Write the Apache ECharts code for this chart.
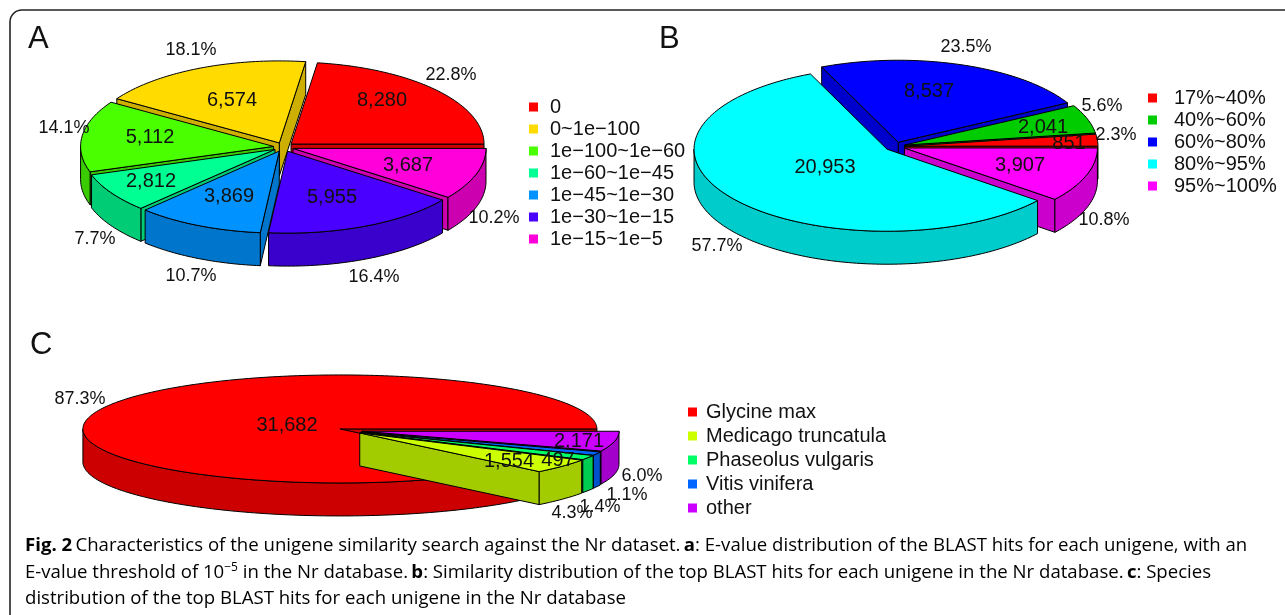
<!DOCTYPE html>
<html>
<head>
<meta charset="utf-8">
<title>Fig. 2</title>
<style>
    html, body { margin: 0; padding: 0; background: #fff; }
    #chart { width: 1285px; height: 615px; }
</style>
<script src="https://cdn.jsdelivr.net/npm/echarts@6/dist/echarts.min.js"></script>
</head>
<body>
<div id="chart"></div>
<script>
    // panel A
    var namesA = ['0', '0~1e\u2212100', '1e\u2212100~1e\u221260', '1e\u221260~1e\u221245', '1e\u221245~1e\u221230', '1e\u221230~1e\u221215', '1e\u221215~1e\u22125'];
    var valuesA = [8280, 6574, 5112, 2812, 3869, 5955, 3687];
    var colorsA = ['#FF0000', '#FFDB00', '#49FF00', '#00FF92', '#0092FF', '#4900FF', '#FF00DB'];
    // panel B
    var namesB = ['17%~40%', '40%~60%', '60%~80%', '80%~95%', '95%~100%'];
    var valuesB = [851, 2041, 8537, 20953, 3907];
    var colorsB = ['#FF0000', '#00CC00', '#0000FF', '#00FFFF', '#FF00FF'];
    // panel C
    var namesC = ['Glycine max', 'Medicago truncatula', 'Phaseolus vulgaris', 'Vitis vinifera', 'other'];
    var valuesC = [31682, 1554, 497, 385, 2171];
    var colorsC = ['#FF0000', '#CCFF00', '#00FF66', '#0066FF', '#CC00FF'];
    var hiddenCountsC = ['Vitis vinifera']; // no count printed for this slice

    // where the pies and their texts sit on the page
    var pies = [
        {
            names: namesA, values: valuesA, colors: colorsA,
            cx: 283.5, cy: 147, rx: 193, ry: 82, depth: 33, ex: 10, ey: 4.5,
            countAt: [[382, 100], [232, 100], [150, 137], [151, 181], [229, 196], [332, 197], [408, 165]],
            pctAt: [[451, 75], [191, 50], [64, 128], [95, 239], [191, 276], [374, 277], [494, 218]],
            legend: { left: 524, top: 92, gap: 2, textGap: 7 }
        },
        {
            names: namesB, values: valuesB, colors: colorsB,
            cx: 895, cy: 146.5, rx: 193, ry: 82, depth: 33, ex: 10, ey: 4.5,
            countAt: [[1069, 143], [1043, 127], [929, 91], [825, 167], [1020, 165]],
            pctAt: [[1116, 135], [1102, 106], [966, 47], [717, 246], [1104, 220]],
            legend: { left: 1143, top: 83, gap: 2, textGap: 12 }
        },
        {
            names: namesC, values: valuesC, colors: colorsC,
            cx: 350.6, cy: 430.5, rx: 257, ry: 54, depth: 33, ex: 11.6, ey: 4,
            countAt: [[287, 425], [509, 461], [558, 460], [0, 0], [579, 441]],
            pctAt: [[80, 399], [572, 513], [600, 507], [627, 495], [642, 476]],
            legend: { left: 683, top: 397, gap: 4, textGap: 4 }
        }
    ];

    var FONT = '"Liberation Sans", Arial, sans-serif';
    var CAPTION_FONT = '"Open Sans", "Noto Sans", sans-serif';
    var CAPTION_SIZE = 18.6;

    function darker(hex) {
        var n = parseInt(hex.slice(1), 16);
        var c = [n >> 16, (n >> 8) & 255, n & 255].map(function (v) { return Math.round(v * 0.8); });
        return 'rgb(' + c.join(',') + ')';
    }

    function rim(o, a) {
        return [o[0] + o[2] * Math.cos(a), o[1] - o[3] * Math.sin(a)];
    }

    function arcPoints(o, a1, a2) {
        var pts = [];
        var steps = Math.max(2, Math.ceil((a2 - a1) / 0.02));
        for (var i = 0; i <= steps; i++) {
            pts.push(rim(o, a1 + (a2 - a1) * i / steps));
        }
        return pts;
    }

    function down(pts, depth) {
        return pts.map(function (p) { return [p[0], p[1] + depth]; }).reverse();
    }

    function buildSlices(pie) {
        var total = pie.values.reduce(function (a, b) { return a + b; }, 0);
        var acc = 0;
        var out = pie.values.map(function (v, i) {
            var a1 = acc / total * Math.PI * 2;
            acc += v;
            var a2 = acc / total * Math.PI * 2;
            var mid = (a1 + a2) / 2;
            return {
                index: i, value: v, pct: v / total * 100, a1: a1, a2: a2, mid: mid,
                x: pie.cx + pie.ex * Math.cos(mid),
                y: pie.cy - pie.ey * Math.sin(mid)
            };
        });
        // back to front
        return out.sort(function (a, b) { return Math.sin(b.mid) - Math.sin(a.mid); });
    }

    function sliceShapes(pie, s, order) {
        var o = [s.x, s.y, pie.rx, pie.ry];
        var apex = [s.x, s.y];
        var side = darker(pie.colors[s.index]);
        var base = { stroke: '#000', lineWidth: 1, lineJoin: 'round' };
        var children = [];
        var add = function (pts, fill, z2) {
            children.push({
                type: 'polygon',
                shape: { points: pts },
                style: Object.assign({ fill: fill }, base),
                z2: order * 10 + z2
            });
        };
        var p1 = rim(o, s.a1), p2 = rim(o, s.a2);
        if (Math.cos(s.a1) > 0) {
            add([apex, p1].concat(down([apex, p1], pie.depth)), side, 1);
        }
        if (Math.cos(s.a2) < 0) {
            add([apex, p2].concat(down([apex, p2], pie.depth)), side, 1);
        }
        var from = Math.max(s.a1, Math.PI), to = Math.min(s.a2, Math.PI * 2);
        if (to > from) {
            var wall = arcPoints(o, from, to);
            add(wall.concat(down(wall, pie.depth)), side, 2);
        }
        add([apex].concat(arcPoints(o, s.a1, s.a2)), pie.colors[s.index], 3);
        return children;
    }

    function label(text, at, size) {
        return {
            type: 'text',
            x: at[0], y: at[1], z2: 1000,
            style: { text: text, fill: '#111', font: size + 'px ' + FONT, align: 'center', verticalAlign: 'middle' }
        };
    }

    var series = [];
    var legends = [];
    pies.forEach(function (pie) {
        buildSlices(pie).forEach(function (s, order) {
            var name = pie.names[s.index];
            series.push({
                type: 'custom',
                name: name,
                coordinateSystem: 'none',
                silent: true,
                animation: false,
                clip: false,
                itemStyle: { color: pie.colors[s.index] },
                data: [[s.value]],
                renderItem: function () {
                    var kids = sliceShapes(pie, s, order);
                    if (hiddenCountsC.indexOf(name) < 0) {
                        kids.push(label(s.value.toLocaleString('en-US'), pie.countAt[s.index], 20));
                    }
                    kids.push(label(s.pct.toFixed(1) + '%', pie.pctAt[s.index], 18));
                    return { type: 'group', children: kids };
                }
            });
        });
        legends.push({
            left: pie.legend.left,
            top: pie.legend.top,
            orient: 'vertical',
            icon: 'rect',
            itemWidth: 9,
            itemHeight: 9,
            itemGap: pie.legend.gap,
            selectedMode: false,
            data: pie.names,
            formatter: function (n) { return '{g|}{t|' + n + '}'; },
            textStyle: {
                rich: {
                    g: { width: pie.legend.textGap },
                    t: { fontFamily: FONT, fontSize: 20, color: '#111' }
                }
            }
        });
    });

    function captionLine(y, rich) {
        return {
            type: 'text', x: 25, y: y,
            style: {
                text: rich,
                verticalAlign: 'middle',
                rich: {
                    n: { fontFamily: CAPTION_FONT, fontSize: CAPTION_SIZE, color: '#333', lineHeight: 22 },
                    b: { fontFamily: CAPTION_FONT, fontSize: CAPTION_SIZE, fontWeight: 'bold', color: '#111', lineHeight: 22 },
                    s: { fontFamily: CAPTION_FONT, fontSize: 12, color: '#333', verticalAlign: 'top', lineHeight: 22 }
                }
            }
        };
    }

    var frameStyle = { fill: null, stroke: '#222', lineWidth: 1.6 };
    var chart = echarts.init(document.getElementById('chart'), null, { renderer: 'canvas' });
    chart.setOption({
        animation: false,
        backgroundColor: '#fff',
        legend: legends,
        series: series,
        graphic: [
            // panel frame, runs off the page
            { type: 'polyline', silent: true, shape: { points: [[10, 620], [10, 22]] }, style: frameStyle },
            { type: 'arc', silent: true, shape: { cx: 22, cy: 22, r: 12, startAngle: Math.PI, endAngle: Math.PI * 1.5 }, style: frameStyle },
            { type: 'polyline', silent: true, shape: { points: [[22, 10], [1290, 10]] }, style: frameStyle },
            { type: 'text', x: 28, y: 39, style: { text: 'A', font: '31px ' + FONT, fill: '#111', verticalAlign: 'middle' } },
            { type: 'text', x: 659, y: 39, style: { text: 'B', font: '31px ' + FONT, fill: '#111', verticalAlign: 'middle' } },
            { type: 'text', x: 30, y: 345, style: { text: 'C', font: '31px ' + FONT, fill: '#111', verticalAlign: 'middle' } },
            captionLine(546, '{b|Fig. 2} {n|Characteristics of the unigene similarity search against the Nr dataset.} {b|a}{n|: E-value distribution of the BLAST hits for each unigene, with an}'),
            captionLine(573, '{n|E-value threshold of 10}{s|\u22125}{n| in the Nr database.} {b|b}{n|: Similarity distribution of the top BLAST hits for each unigene in the Nr database.} {b|c}{n|: Species}'),
            captionLine(599, '{n|distribution of the top BLAST hits for each unigene in the Nr database}')
        ]
    });
</script>
</body>
</html>
